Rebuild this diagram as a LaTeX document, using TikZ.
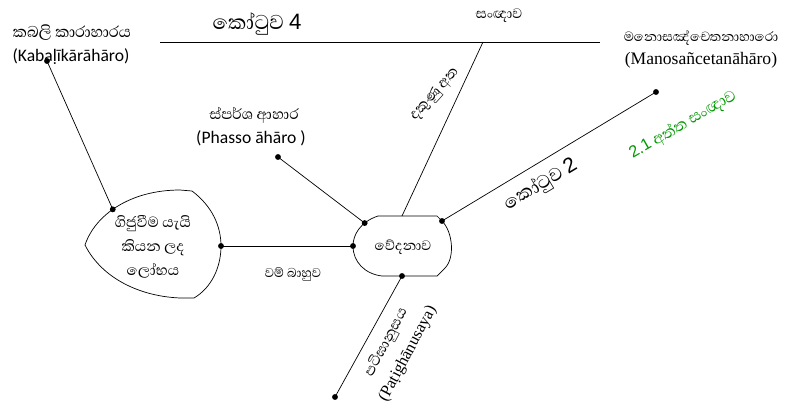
\documentclass[tikz,border=0pt]{standalone}
\usepackage{fontspec}
\setmainfont{Carlito}
\newfontfamily\sinhfont[Script=Sinhala]{Abhaya Libre}
\newfontfamily\tmsfont{Liberation Serif}
\newfontfamily\arialfont{Liberation Sans}
\usetikzlibrary{calc}
\newcommand{\fsz}[1]{\fontsize{#1}{1.2\dimexpr#1pt\relax}\selectfont}
\tikzset{dot/.style={circle,fill=black,inner sep=0pt,minimum size=5pt},
         lbl/.style={inner sep=1pt,align=center}}

\begin{document}
\begin{tikzpicture}[x=0.03cm,y=-0.03cm,line width=0.6pt]
\useasboundingbox (0,0) rectangle (788,406);
% top line
\coordinate (topL) at (160,42);
\coordinate (topR) at (600,42);
\coordinate (topM) at (483,42);
\draw (topL)--(topR);
% leaf (lobha)
\draw (85,245) .. controls (95,215) and (130,190) .. (180,190) coordinate[pos=0.45] (leafNW)
  -- (192,191) .. controls (212,206) and (221,226) .. (221,246) coordinate (leafE)
  .. controls (221,268) and (211,288) .. (194,298)
  -- (180,298) .. controls (135,296) and (100,275) .. (85,245);
% vedana
\draw (378,216) -- (437,216) -- (442,221) coordinate (vedNE)
  .. controls (453,232) and (455,258) .. (445,268) -- (437,276)
  -- (402,276) coordinate (vedS) -- (382,276)
  .. controls (365,274) and (353,262) .. (353,246) coordinate (vedW)
  .. controls (353,235) and (360,222) .. (378,216) coordinate[pos=0.7] (vedNW);
\coordinate (vedN) at (402,216);
% outer points
\coordinate (kab) at (47,61);
\coordinate (pha) at (278,157);
\coordinate (man) at (656,92);
\coordinate (pat) at (335,397);
\foreach \p in {kab,pha,man,pat,leafNW,leafE,vedW,vedNW,vedNE,vedS}
  \node[dot] at (\p) {};
% connectors
\draw (kab)--(leafNW);
\draw (leafE)--(vedW);
\draw (pha)--(vedNW);
\draw (vedN)--(topM);
\draw (vedNE)--(man);
\draw (vedS)--(pat);
% labels
\node[lbl,font=\sinhfont\fsz{17}] (kabS) at (72,33) {කබලි කාරාහාරය};
\node[lbl,font=\fsz{15}] (kabL) at (71,57) {(Kabaḷīkārāhāro)};
\node[lbl,font=\sinhfont\fsz{22}] (k4) at (257,24) {කෝටුව {\arialfont\fsz{19}4}};
\node[lbl,font=\sinhfont\fsz{15}] (san) at (499,16) {සංඥාව};
\node[lbl,font=\sinhfont\fsz{14.5}] (manS) at (701,38) {මනොසඤ්චෙතනාහාරො};
\node[lbl,font=\tmsfont\fsz{15}] (manL) at (701,60) {(Manosañcetanāhāro)};
\node[lbl,font=\sinhfont\fsz{16}] (phaS) at (254,115) {ස්පර්ශ ආහාර};
\node[lbl,font=\fsz{15}] (phaL) at (251,138) {(Phasso āhāro )};
\node[lbl,font=\sinhfont\fontsize{16}{20.5}\selectfont] (lobha) at (153,247) {ගිජුවීම යැයි\\කියන ලද\\ලෝභය};
\node[lbl,font=\sinhfont\fsz{15}] (ved) at (403,247) {වේදනාව};
\node[lbl,font=\sinhfont\fsz{14}] (wam) at (293,274) {වම් බාහුව};
\node[lbl,font=\sinhfont\fsz{16},rotate=48] (dak) at (435,95) {දකුණු අත};
\node[lbl,font=\sinhfont\fsz{20},rotate=31] (k2) at (541,185) {කෝටුව {\arialfont\fsz{18}2}};
\node[lbl,font=\sinhfont\fsz{17},rotate=30,text=green!60!black] (att) at (683,125) {{\arialfont\fsz{14}2.1} අත්ත සංඥාව};
\node[lbl,font=\sinhfont\fontsize{15.5}{21}\selectfont,rotate=62] (pati) at (397,348) {පටිඝානුසය\\{\tmsfont\fsz{14}(Paṭighānusaya)}};
\end{tikzpicture}
\end{document}
